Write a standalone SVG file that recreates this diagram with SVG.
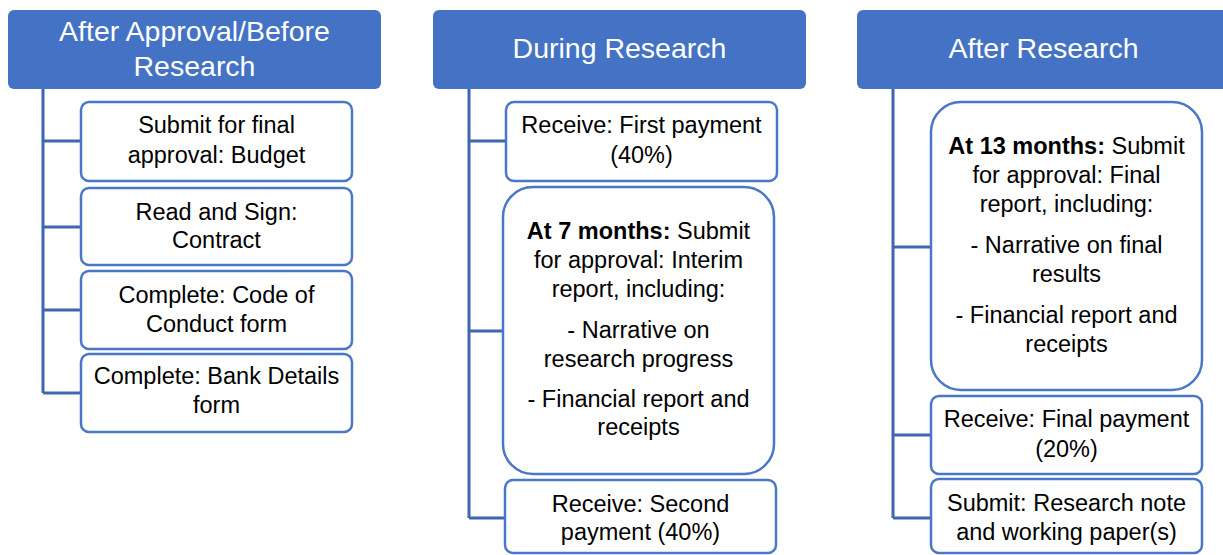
<svg xmlns="http://www.w3.org/2000/svg" width="1223" height="555" viewBox="0 0 1223 555">
<style>
.hdr{fill:#4472C4}
.hdr-t{fill:#fff;font-family:"Liberation Sans",Arial,sans-serif;font-size:28.5px;text-anchor:middle}
.box{fill:#fff;stroke:#4A78C6;stroke-width:2.5}
.t{fill:#000;font-family:"Liberation Sans",Arial,sans-serif;font-size:23.5px;text-anchor:middle}
.b{font-weight:bold}
.conn{fill:none;stroke:#3F66AE;stroke-width:3}
</style>
<rect width="1223" height="555" fill="#fff"/>
<g id="connectors">
<path class="conn" d="M43 89 V393 M43 141 H81 M43 227 H81 M43 310 H81 M43 393 H81"/>
<path class="conn" d="M469 89 V518 M469 141 H506 M469 331 H503 M469 518 H505"/>
<path class="conn" d="M893 89 V518 M893 247 H931 M893 435 H931 M893 518 H931"/>
</g>
<g id="h1"><rect class="hdr" x="8" y="10" width="373" height="79" rx="6"/>
<text class="hdr-t" x="194.5" y="41">After Approval/Before</text><text class="hdr-t" x="194.5" y="76">Research</text></g>
<g id="h2"><rect class="hdr" x="433" y="10" width="373" height="79" rx="6"/>
<text class="hdr-t" x="619.5" y="58">During Research</text></g>
<g id="h3"><rect class="hdr" x="857" y="10" width="373" height="79" rx="6"/>
<text class="hdr-t" x="1043.5" y="58">After Research</text></g>
<g id="n1"><rect class="box" x="81" y="102" width="271" height="79" rx="8"/>
<text class="t" x="216.5" y="133">Submit for final</text><text class="t" x="216.5" y="163">approval: Budget</text></g>
<g id="n2"><rect class="box" x="81" y="188" width="271" height="77" rx="8"/>
<text class="t" x="216.5" y="220">Read and Sign:</text><text class="t" x="216.5" y="248">Contract</text></g>
<g id="n3"><rect class="box" x="81" y="271" width="271" height="78" rx="8"/>
<text class="t" x="216.5" y="303">Complete: Code of</text><text class="t" x="216.5" y="332">Conduct form</text></g>
<g id="n4"><rect class="box" x="81" y="354" width="271" height="78" rx="8"/>
<text class="t" x="216.5" y="384">Complete: Bank Details</text><text class="t" x="216.5" y="413">form</text></g>
<g id="n5"><rect class="box" x="506" y="102" width="271" height="79" rx="8"/>
<text class="t" x="641.5" y="133">Receive: First payment</text><text class="t" x="641.5" y="163">(40%)</text></g>
<g id="n6"><rect class="box" x="503" y="187" width="271" height="287" rx="30"/>
<text class="t" x="638.5" y="239"><tspan class="b">At 7 months:</tspan> Submit</text>
<text class="t" x="638.5" y="268">for approval: Interim</text>
<text class="t" x="638.5" y="297">report, including:</text>
<text class="t" x="638.5" y="338">- Narrative on</text>
<text class="t" x="638.5" y="367">research progress</text>
<text class="t" x="638.5" y="407">- Financial report and</text>
<text class="t" x="638.5" y="435">receipts</text></g>
<g id="n7"><rect class="box" x="505" y="480" width="271" height="73" rx="8"/>
<text class="t" x="640.5" y="512">Receive: Second</text><text class="t" x="640.5" y="540">payment (40%)</text></g>
<g id="n8"><rect class="box" x="931" y="102" width="271" height="288" rx="30"/>
<text class="t" x="1066.5" y="154"><tspan class="b">At 13 months:</tspan> Submit</text>
<text class="t" x="1066.5" y="183">for approval: Final</text>
<text class="t" x="1066.5" y="212">report, including:</text>
<text class="t" x="1066.5" y="253">- Narrative on final</text>
<text class="t" x="1066.5" y="282">results</text>
<text class="t" x="1066.5" y="323">- Financial report and</text>
<text class="t" x="1066.5" y="352">receipts</text></g>
<g id="n9"><rect class="box" x="931" y="396" width="271" height="78" rx="8"/>
<text class="t" x="1066.5" y="427">Receive: Final payment</text><text class="t" x="1066.5" y="457">(20%)</text></g>
<g id="n10"><rect class="box" x="931" y="479" width="271" height="74" rx="8"/>
<text class="t" x="1066.5" y="511">Submit: Research note</text><text class="t" x="1066.5" y="540">and working paper(s)</text></g>
</svg>
